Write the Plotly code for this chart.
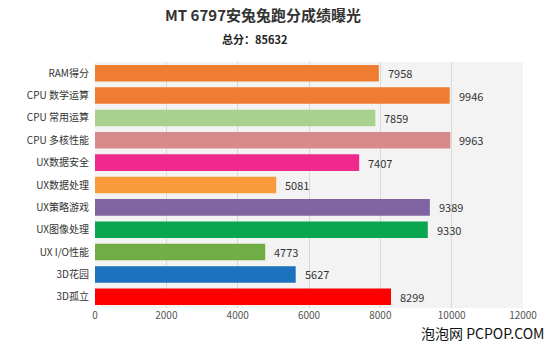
import plotly.graph_objects as go

categories = ["RAM得分", "CPU 数学运算", "CPU 常用运算", "CPU 多核性能", "UX数据安全",
              "UX数据处理", "UX策略游戏", "UX图像处理", "UX I/O性能", "3D花园", "3D孤立"]
scores = [7958, 9946, 7859, 9963, 7407, 5081, 9389, 9330, 4773, 5627, 8299]
colors = ["#EE7D31", "#EE7D31", "#A8D18D", "#D88A8A", "#F02A8C", "#F99B3A",
          "#8064A2", "#07A64F", "#70AD47", "#1C72BD", "#FE0000"]
x_ticks = [0, 2000, 4000, 6000, 8000, 10000, 12000]
title_text = "MT 6797安兔兔跑分成绩曝光"
subtitle_text = "总分：85632"
watermark = "泡泡网 PCPOP.COM"

font_family = "Noto Sans CJK SC, Noto Sans, sans-serif"

W, H = 550, 343
ML, MR, MT, MB = 95, 27, 62, 35
PW, PH = W - ML - MR, H - MT - MB


def px_to_paper(px, py):
    return (px - ML) / PW, (H - MB - py) / PH


fig = go.Figure()
fig.add_trace(go.Bar(
    y=categories, x=scores, orientation="h",
    marker=dict(color=colors, line=dict(width=0)),
    hoverinfo="x+y",
))

annotations = []
for c, v in zip(categories, scores):
    annotations.append(dict(x=v, y=c, xref="x", yref="y", text=str(v),
                            showarrow=False, xanchor="left", xshift=7,
                            font=dict(size=11, color="#333333", family=font_family)))
tx, ty = px_to_paper(263, 14)
annotations.append(dict(x=tx, y=ty, xref="paper", yref="paper",
                        text="<b>" + title_text + "</b>", showarrow=False,
                        xanchor="center", yanchor="middle",
                        font=dict(size=15, color="#333333", family=font_family)))
sx, sy = px_to_paper(254, 39)
annotations.append(dict(x=sx, y=sy, xref="paper", yref="paper",
                        text="<b>" + subtitle_text + "</b>", showarrow=False,
                        xanchor="center", yanchor="middle",
                        font=dict(size=11, color="#222222", family=font_family)))
wx, wy = px_to_paper(546, 333)
annotations.append(dict(x=wx, y=wy, xref="paper", yref="paper",
                        text=watermark, showarrow=False,
                        xanchor="right", yanchor="middle",
                        font=dict(size=14, color="#111111", family=font_family)))

fig.update_layout(
    width=W, height=H,
    margin=dict(l=ML, r=MR, t=MT, b=MB),
    paper_bgcolor="#FFFFFF",
    plot_bgcolor="#F3F3F3",
    showlegend=False,
    bargap=0.26,
    annotations=annotations,
    font=dict(family=font_family, color="#444444", size=10),
    xaxis=dict(range=[0, 12000], tickvals=x_ticks, ticktext=[str(t) for t in x_ticks],
               showgrid=True, gridcolor="#D9D9D9", gridwidth=1, zeroline=False,
               tickfont=dict(size=10, color="#555555"), ticks="", showline=False,
               fixedrange=True),
    yaxis=dict(autorange="reversed", showgrid=False, ticks="", ticklen=0,
               ticklabelstandoff=5,
               tickfont=dict(size=10, color="#333333"), fixedrange=True),
)

fig.write_html("out.html")
